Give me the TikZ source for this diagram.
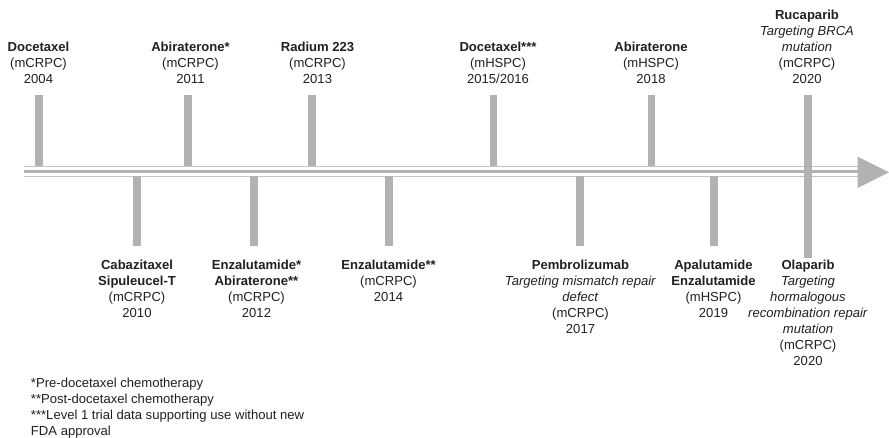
\documentclass[tikz,border=0pt]{standalone}
\usepackage{fontspec}
\setmainfont{Liberation Sans}
\begin{document}
\definecolor{bargray}{RGB}{178,178,181}
\definecolor{rulegray}{RGB}{196,196,199}
\definecolor{ink}{RGB}{35,31,32}
\begin{tikzpicture}[x=0.75pt,y=-0.75pt,
  every node/.style={inner sep=0pt,outer sep=0pt,text=ink,align=center,
    font={\fontsize{9.8pt}{12pt}\selectfont}},
  above label/.style={anchor=south,text depth=0pt},
  below label/.style={anchor=north},
  tickbar/.style={draw=bargray,line width=5.6pt},
  thinrule/.style={draw=rulegray,line width=0.9pt},
  thickrule/.style={draw=bargray,line width=1.8pt}]
\useasboundingbox (0,0) rectangle (889,438);

% time axis: two thin rules around a heavier one, ending in a solid arrowhead
\coordinate (axL1) at (23.5,166.3);  \coordinate (axR1) at (860,166.3);
\coordinate (axL2) at (23.5,171.7);  \coordinate (axR2) at (860,171.7);
\coordinate (axL3) at (23.5,176.2);  \coordinate (axR3) at (860,176.2);
\draw[thinrule] (axL1) -- (axR1);
\draw[thickrule] (axL2) -- (axR2);
\draw[thinrule] (axL3) -- (axR3);
\fill[bargray] (857.7,156.7) -- (889,172.3) -- (857.7,188) -- cycle;

% milestones above the axis
\node[above label] (doc04) at (38.5,83.5) {\textbf{Docetaxel}\\(mCRPC)\\2004};
\node[above label] (abi11) at (190.5,83.5) {\textbf{Abiraterone*}\\(mCRPC)\\2011};
\node[above label] (rad13) at (317.5,83.5) {\textbf{Radium 223}\\(mCRPC)\\2013};
\node[above label] (doc15) at (498,83.5) {\textbf{Docetaxel***}\\(mHSPC)\\2015/2016};
\node[above label] (abi18) at (651,83.5) {\textbf{Abiraterone}\\(mHSPC)\\2018};
\node[above label] (ruc20) at (807,83.5) {\textbf{Rucaparib}\\\textit{Targeting BRCA}\\\textit{mutation}\\(mCRPC)\\2020};

% milestones below the axis
\node[below label] (cab10) at (137,260.1) {\textbf{Cabazitaxel}\\\textbf{Sipuleucel-T}\\(mCRPC)\\2010};
\node[below label] (enz12) at (256.5,260.1) {\textbf{Enzalutamide*}\\\textbf{Abiraterone**}\\(mCRPC)\\2012};
\node[below label] (enz14) at (388.5,260.1) {\textbf{Enzalutamide**}\\(mCRPC)\\2014};
\node[below label] (pem17) at (580.5,260.1) {\textbf{Pembrolizumab}\\\textit{Targeting mismatch repair}\\\textit{defect}\\(mCRPC)\\2017};
\node[below label] (apa19) at (713.5,260.1) {\textbf{Apalutamide}\\\textbf{Enzalutamide}\\(mHSPC)\\2019};
\node[below label] (ola20) at (808,260.1) {\textbf{Olaparib}\\\textit{Targeting}\\\textit{hormalogous}\\\textit{recombination repair}\\\textit{mutation}\\(mCRPC)\\2020};

% tick bars joining each milestone to the axis
\foreach \nm/\x in {doc04/39,abi11/188,rad13/312,doc15/493.7,abi18/651.3}{
  \coordinate (\nm-top) at (\x,95);
  \coordinate (\nm-ax) at (\x,166.3);
  \draw[tickbar] (\nm-top) -- (\nm-ax);
}
\foreach \nm/\x in {cab10/137,enz12/254,enz14/389,pem17/580,apa19/714}{
  \coordinate (\nm-ax) at (\x,176.2);
  \coordinate (\nm-bot) at (\x,246);
  \draw[tickbar] (\nm-ax) -- (\nm-bot);
}
% 2020 bar crosses the axis
\coordinate (y20-top) at (808,95);
\coordinate (y20-bot) at (808,258);
\draw[tickbar] (y20-top) -- (y20-bot);

% footnotes
\node[anchor=north west,align=left] (notes) at (31,377.6)
  {*Pre-docetaxel chemotherapy\\**Post-docetaxel chemotherapy\\***Level 1 trial data supporting use without new\\FDA approval};
\end{tikzpicture}
\end{document}
